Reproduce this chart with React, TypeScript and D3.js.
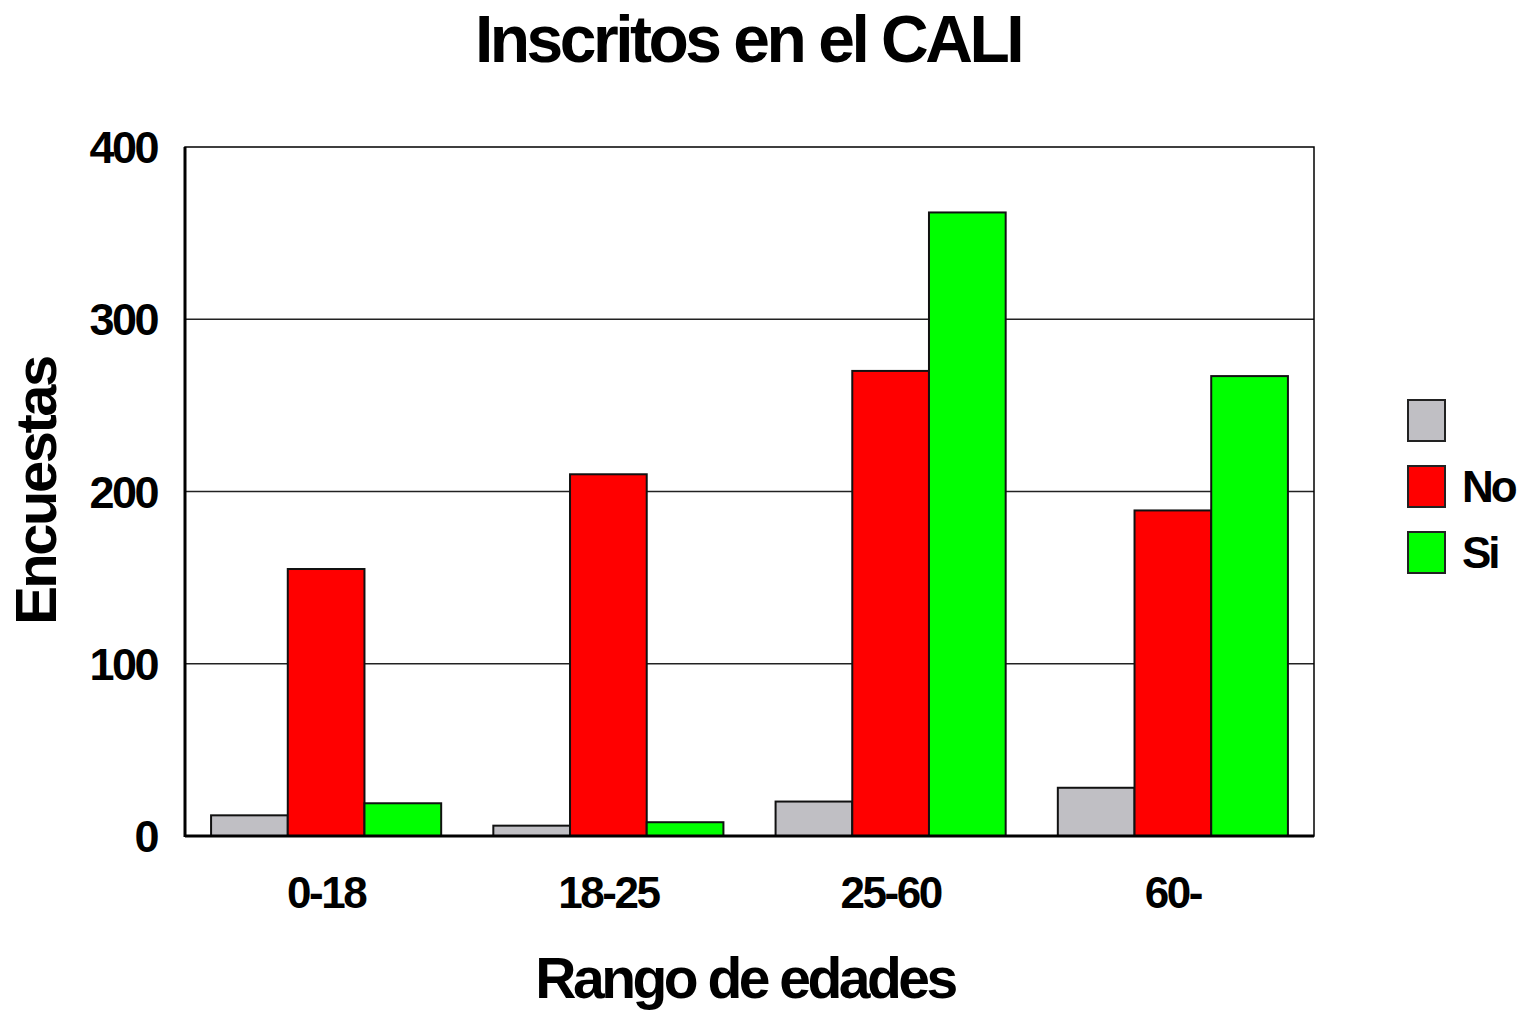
import React from "react";
import * as d3 from "d3";

const categories = ["0-18", "18-25", "25-60", "60-"];
const seriesNames = ["", "No", "Si"];
const seriesColors = ["#c0bfc4", "#ff0000", "#00ff00"];
const blankValues = [12, 6, 20, 28];
const noValues = [155, 210, 270, 189];
const siValues = [19, 8, 362, 267];
const yTicks = [0, 100, 200, 300, 400];

const W = 1524;
const H = 1010;
const M = { left: 185, right: 1314, top: 147, bottom: 836 };
const FONT = "'Liberation Sans', Arial, sans-serif";

export default function App() {
  const series = [blankValues, noValues, siValues];
  const x = d3.scaleBand<string>().domain(categories).range([M.left, M.right]).paddingInner(0).paddingOuter(0);
  const inner = d3.scaleBand<number>().domain([0, 1, 2]).range([0, x.bandwidth()]).paddingOuter(0.34).paddingInner(0);
  const y = d3.scaleLinear().domain([0, 400]).range([M.bottom, M.top]);

  return (
    <svg width={W} height={H} style={{ position: "absolute", left: 0, top: 0, background: "#fff" }}>
      <rect x={0} y={0} width={W} height={H} fill="#fff" />
      <text x={748} y={62} textAnchor="middle" fontFamily={FONT} fontWeight="bold" fontSize={66} letterSpacing={-3.5}>
        Inscritos en el CALI
      </text>
      {yTicks.filter((t) => t > 0 && t < 400).map((t) => (
        <line key={t} x1={M.left} x2={M.right} y1={y(t)} y2={y(t)} stroke="#222" strokeWidth={1.5} />
      ))}
      <rect x={M.left} y={M.top} width={M.right - M.left} height={M.bottom - M.top} fill="none" stroke="#000" strokeWidth={1.5} />
      {categories.map((c, ci) =>
        series.map((vals, si) => (
          <rect
            key={c + si}
            x={(x(c) as number) + (inner(si) as number)}
            y={y(vals[ci])}
            width={inner.bandwidth()}
            height={y(0) - y(vals[ci])}
            fill={seriesColors[si]}
            stroke="#111"
            strokeWidth={2}
          />
        ))
      )}
      <line x1={M.left} x2={M.left} y1={M.top} y2={M.bottom + 1} stroke="#000" strokeWidth={3} />
      <line x1={M.left} x2={M.right} y1={M.bottom} y2={M.bottom} stroke="#000" strokeWidth={3} />
      {yTicks.map((t) => (
        <text key={t} x={157} y={y(t) + 16} textAnchor="end" fontFamily={FONT} fontWeight="bold" fontSize={45} letterSpacing={-2.5}>
          {t}
        </text>
      ))}
      {categories.map((c) => (
        <text key={c} x={(x(c) as number) + x.bandwidth() / 2} y={908} textAnchor="middle" fontFamily={FONT} fontWeight="bold" fontSize={44} letterSpacing={-2.5}>
          {c}
        </text>
      ))}
      <text x={745} y={998} textAnchor="middle" fontFamily={FONT} fontWeight="bold" fontSize={57} letterSpacing={-3.5}>
        Rango de edades
      </text>
      <text transform={`translate(56,491) rotate(-90)`} textAnchor="middle" fontFamily={FONT} fontWeight="bold" fontSize={58} letterSpacing={-2.5}>
        Encuestas
      </text>
      {seriesNames.map((n, i) => (
        <g key={i} transform={`translate(1408,${400 + i * 66})`}>
          <rect x={0} y={0} width={37} height={41} fill={seriesColors[i]} stroke="#222" strokeWidth={2} />
          <text x={54} y={36} fontFamily={FONT} fontWeight="bold" fontSize={44} letterSpacing={-3}>
            {n}
          </text>
        </g>
      ))}
    </svg>
  );
}
